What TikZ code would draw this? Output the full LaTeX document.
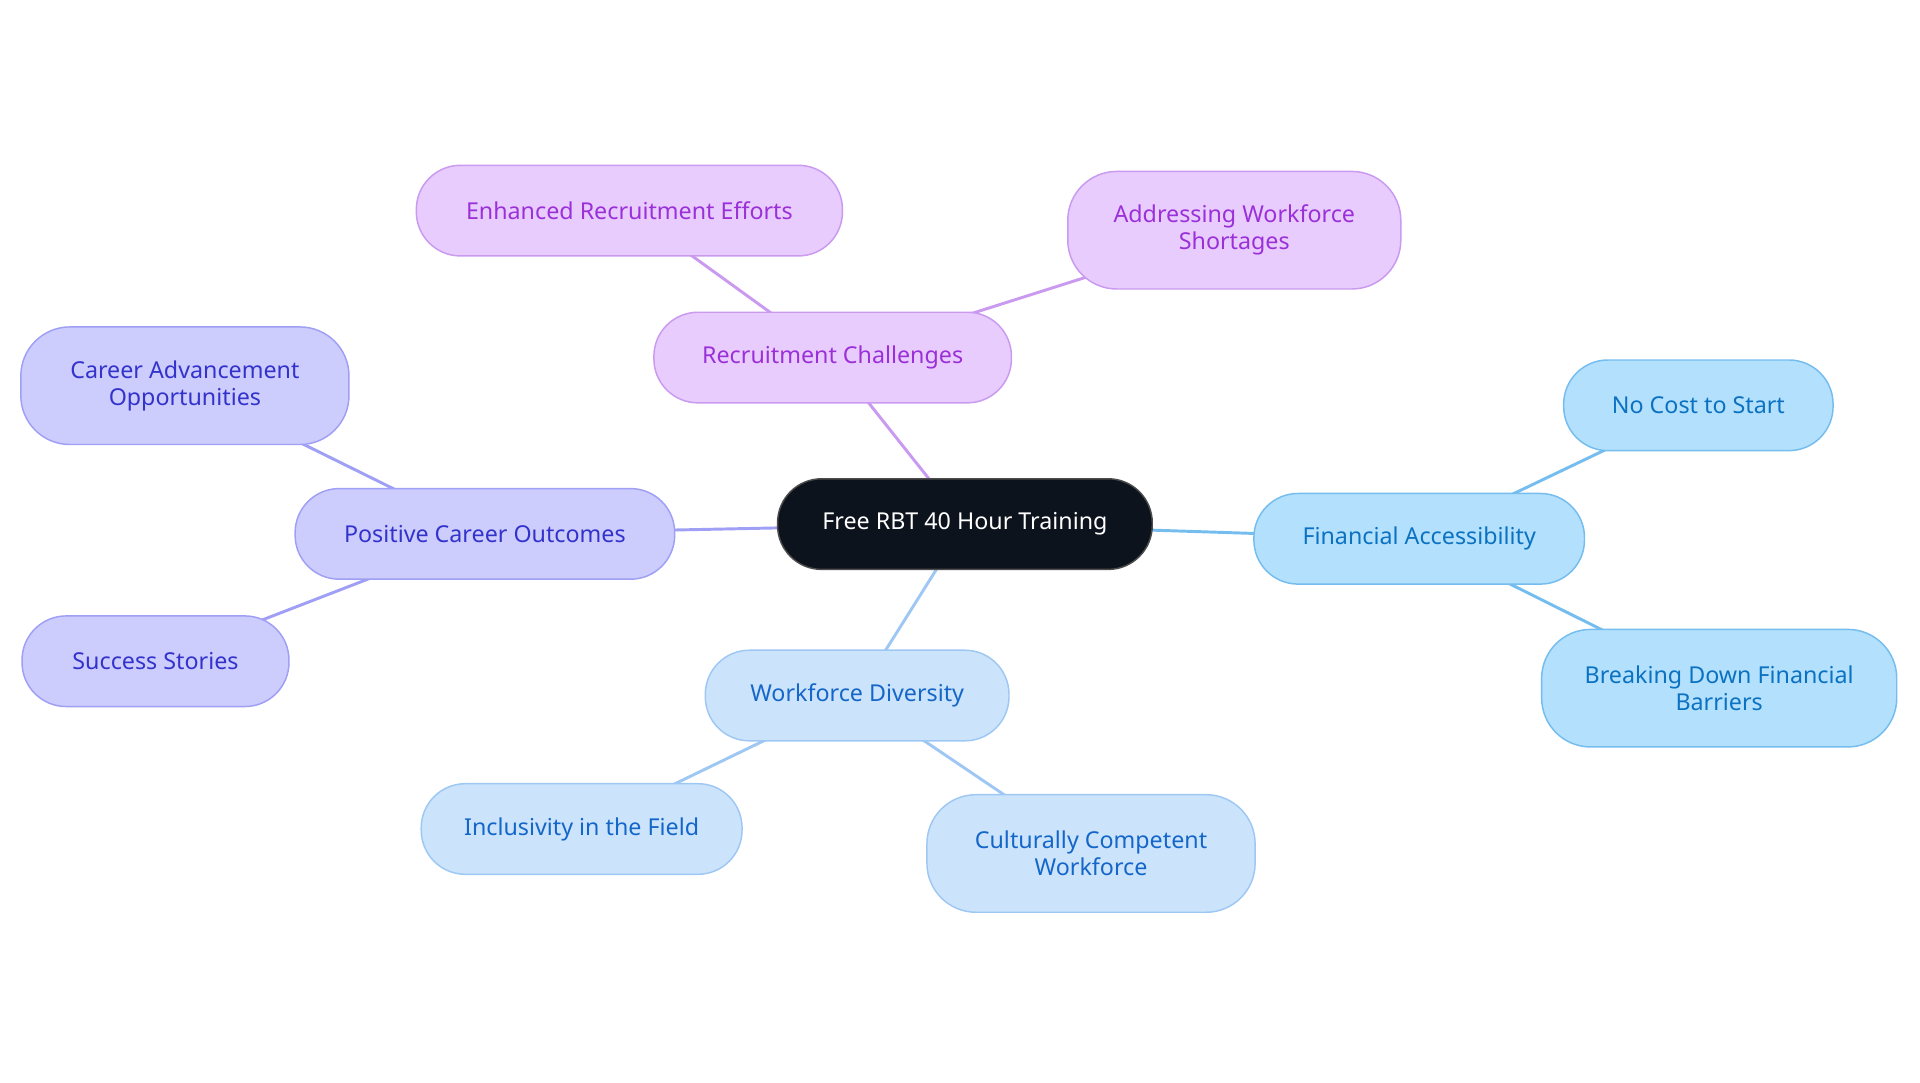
\documentclass[tikz,border=0pt]{standalone}
\usepackage{fontspec}
\setmainfont{Noto Sans}
\usetikzlibrary{backgrounds}
\definecolor{pf}{HTML}{E8CCFD}\definecolor{ps}{HTML}{C99AF0}\definecolor{pt}{HTML}{9B30D9}
\definecolor{if}{HTML}{CCCCFD}\definecolor{is}{HTML}{9F9FF5}\definecolor{it}{HTML}{3333CC}
\definecolor{bf}{HTML}{CCE3FC}\definecolor{bs}{HTML}{9EC8F3}\definecolor{bt}{HTML}{1467C8}
\definecolor{sf}{HTML}{B3E0FD}\definecolor{ss}{HTML}{74BDEE}\definecolor{st}{HTML}{0B72C2}
\definecolor{cf}{HTML}{0D131C}
\tikzset{
 box/.style={rounded corners=18pt,line width=0.6pt,align=center,font=\fontsize{9.5}{11}\selectfont,inner sep=0pt,minimum height=37pt},
 pur/.style={box,fill=pf,draw=ps,text=pt},
 ind/.style={box,fill=if,draw=is,text=it},
 blu/.style={box,fill=bf,draw=bs,text=bt},
 sky/.style={box,fill=sf,draw=ss,text=st},
 tall/.style={minimum height=48pt,rounded corners=20pt},
 e/.style={line width=1.2pt}
}
\begin{document}
\begin{tikzpicture}[x=0.5pt,y=-0.5pt]
\useasboundingbox (0,0) rectangle (1568,884);
\node[box,fill=cf,draw=gray!60!black,text=white,minimum width=153pt] (c) at (788,428) {Free RBT 40 Hour Training};
\node[pur,minimum width=146pt] (rc) at (680,292) {Recruitment Challenges};
\node[pur,minimum width=174pt] (er) at (514,172) {Enhanced Recruitment Efforts};
\node[pur,tall,minimum width=136pt] (aw) at (1008,188) {Addressing Workforce\\Shortages};
\node[ind,minimum width=155pt] (pc) at (396,436) {Positive Career Outcomes};
\node[ind,tall,minimum width=134pt] (ca) at (151,315) {Career Advancement\\Opportunities};
\node[ind,minimum width=109pt] (ss) at (127,540) {Success Stories};
\node[blu,minimum width=124pt] (wd) at (700,568) {Workforce Diversity};
\node[blu,minimum width=131pt] (in) at (475,677) {Inclusivity in the Field};
\node[blu,tall,minimum width=134pt] (cc) at (891,697) {Culturally Competent\\Workforce};
\node[sky,minimum width=135pt] (fa) at (1159,440) {Financial Accessibility};
\node[sky,minimum width=110pt] (nc) at (1387,331) {No Cost to Start};
\node[sky,tall,minimum width=145pt] (bd) at (1404,562) {Breaking Down Financial\\Barriers};
\begin{scope}[on background layer]
\draw[e,ps] (c.center) -- (rc.center) (rc.center) -- (er.center) (rc.center) -- (aw.center);
\draw[e,is] (c.center) -- (pc.center) (pc.center) -- (ca.center) (pc.center) -- (ss.center);
\draw[e,bs] (c.center) -- (wd.center) (wd.center) -- (in.center) (wd.center) -- (cc.center);
\draw[e,ss] (c.center) -- (fa.center) (fa.center) -- (nc.center) (fa.center) -- (bd.center);
\end{scope}
\end{tikzpicture}
\end{document}
